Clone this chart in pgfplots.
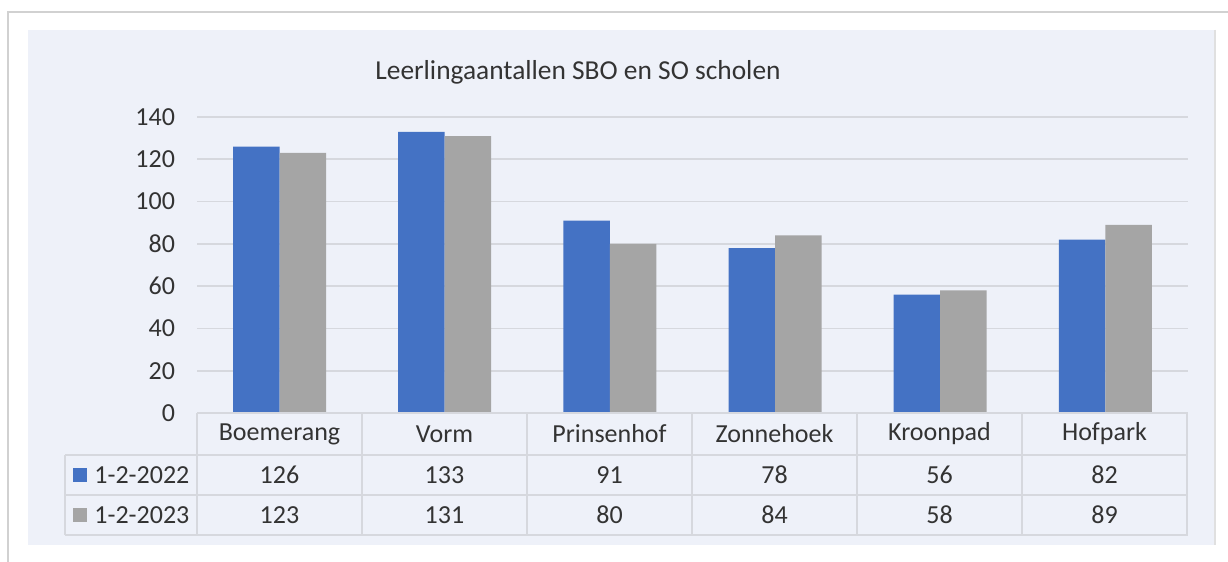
\documentclass[border=0pt]{standalone}
\usepackage{pgfplots}
\pgfplotsset{compat=1.18}
\usepackage{pgfplotstable}
\usepackage{fontspec}
\setmainfont{Carlito}

\definecolor{blauw}{HTML}{4472C4}
\definecolor{grijs}{HTML}{A5A5A5}
\definecolor{paneel}{HTML}{EEF1F9}
\definecolor{lijn}{HTML}{D6D8DE}
\definecolor{tekst}{HTML}{333333}

% leerlingaantallen per school
\pgfplotstableread{
x naam a b
0 Boemerang 126 123
1 Vorm 133 131
2 Prinsenhof 91 80
3 Zonnehoek 78 84
4 Kroonpad 56 58
5 Hofpark 82 89
}\leerlingen

\newcommand\lbl{\fontsize{13}{15}\selectfont}

\begin{document}
\begin{tikzpicture}
% achtergrond, in pixels met y omlaag
\begin{scope}[x=0.5pt,y=-0.5pt,yshift=281pt]
  \fill[white] (0,0) rectangle (1228,562);
  \useasboundingbox (0,0) rectangle (1228,562);
  \draw[black!18, line width=1.2pt] (8,562) -- (8,12) -- (1228,12);
  \fill[paneel] (28,30) rectangle (1215,545);
  \draw[black!12, line width=1pt] (1215,30) -- (1215,545);
  \node[text=tekst, font=\fontsize{13.7}{16}\selectfont] at (578,72)
    {Leerlingaantallen SBO en SO scholen};
\end{scope}

\begin{axis}[
  at={(98.5pt,74.5pt)}, anchor=south west,
  scale only axis, width=495.5pt, height=148pt,
  ybar=0pt, bar width=23.25pt,
  xmin=-0.5, xmax=5.5, ymin=0, ymax=140,
  ytick={0,20,...,140}, xtick=\empty,
  axis line style={draw=none}, major tick length=0pt,
  ymajorgrids, grid style={lijn, line width=0.8pt},
  yticklabel style={font=\lbl, text=tekst, anchor=east, xshift=-7.5pt},
  /pgf/number format/assume math mode=true,
]
\addplot[fill=blauw, draw=none] table[x=x, y=a] {\leerlingen};
\addplot[fill=grijs, draw=none] table[x=x, y=b] {\leerlingen};
\end{axis}

% gegevenstabel onder de grafiek
\begin{scope}[x=0.5pt,y=-0.5pt,yshift=281pt]
  \draw[lijn, line width=0.8pt] (197,413) -- (1188,413);
  \draw[lijn, line width=0.8pt] (65,455) -- (1188,455);
  \draw[lijn, line width=0.8pt] (65,495) -- (1188,495);
  \draw[lijn, line width=0.8pt] (65,535) -- (1188,535);
  \draw[lijn, line width=0.8pt] (65,455) -- (65,535);
  \foreach \k in {0,...,6} {
    \draw[lijn, line width=0.8pt] ({197+165*\k},413) -- ({197+165*\k},535);
  }
  \foreach \i in {0,...,5} {
    \pgfplotstablegetelem{\i}{naam}\of\leerlingen
    \node[text=tekst, font=\lbl] at ({197+165*(\i+0.5)},434) {\pgfplotsretval};
    \pgfplotstablegetelem{\i}{a}\of\leerlingen
    \node[text=tekst, font=\lbl] at ({197+165*(\i+0.5)},475) {\pgfplotsretval};
    \pgfplotstablegetelem{\i}{b}\of\leerlingen
    \node[text=tekst, font=\lbl] at ({197+165*(\i+0.5)},515) {\pgfplotsretval};
  }
  \fill[blauw] (73,468) rectangle (87,482);
  \fill[grijs] (73,508) rectangle (87,522);
  \node[text=tekst, font=\lbl, anchor=west, inner sep=0pt] at (94,475) {1-2-2022};
  \node[text=tekst, font=\lbl, anchor=west, inner sep=0pt] at (94,515) {1-2-2023};
\end{scope}
\end{tikzpicture}
\end{document}
